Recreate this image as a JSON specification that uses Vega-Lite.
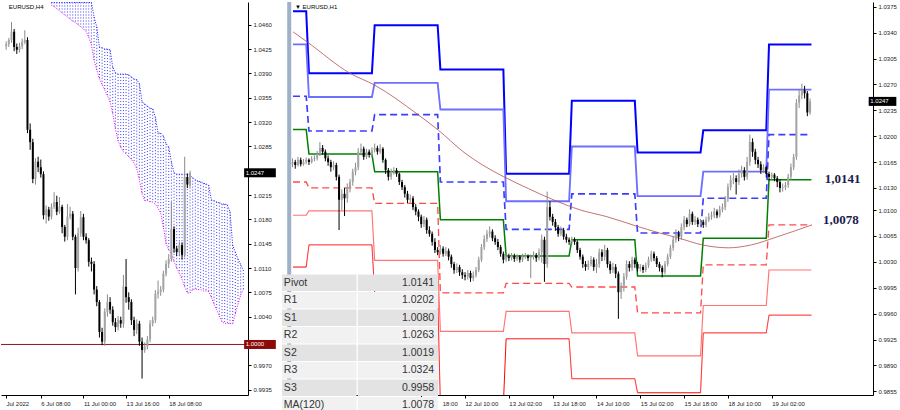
{
"$schema": "https://vega.github.io/schema/vega-lite/v6.json",
"padding": 0,
"background": "#ffffff",
"spacing": 40,
"bounds": "flush",
"config": {"view": {"stroke": null},
 "axis": {"labelFont": "Liberation Sans", "labelFontSize": 6, "labelColor": "#222222", "domainColor": "#000000", "tickColor": "#000000", "tickSize": 3, "grid": false, "labelPadding": 2, "title": null, "labelOverlap": false, "labelBound": false, "labelFlush": false}},
"datasets": {
"one": [{}],
"h4": [
{"j":-29,"o":1.0429,"h":1.0436,"l":1.0424,"c":1.0432},
{"j":-28,"o":1.0432,"h":1.0441,"l":1.0428,"c":1.0438},
{"j":-27,"o":1.0438,"h":1.0464,"l":1.0434,"c":1.0450},
{"j":-26,"o":1.0450,"h":1.0454,"l":1.0422,"c":1.0428},
{"j":-25,"o":1.0428,"h":1.0433,"l":1.0418,"c":1.0424},
{"j":-24,"o":1.0424,"h":1.0434,"l":1.0420,"c":1.0429},
{"j":-23,"o":1.0429,"h":1.0440,"l":1.0425,"c":1.0435},
{"j":-22,"o":1.0435,"h":1.0452,"l":1.0432,"c":1.0438},
{"j":-21,"o":1.0438,"h":1.0442,"l":1.0304,"c":1.0309},
{"j":-20,"o":1.0309,"h":1.0318,"l":1.0280,"c":1.0291},
{"j":-19,"o":1.0291,"h":1.0296,"l":1.0232,"c":1.0238},
{"j":-18,"o":1.0238,"h":1.0268,"l":1.0230,"c":1.0263},
{"j":-17,"o":1.0263,"h":1.0270,"l":1.0248,"c":1.0255},
{"j":-16,"o":1.0255,"h":1.0266,"l":1.0240,"c":1.0245},
{"j":-15,"o":1.0245,"h":1.0249,"l":1.0180,"c":1.0186},
{"j":-14,"o":1.0186,"h":1.0200,"l":1.0174,"c":1.0194},
{"j":-13,"o":1.0194,"h":1.0198,"l":1.0178,"c":1.0184},
{"j":-12,"o":1.0184,"h":1.0203,"l":1.0180,"c":1.0198},
{"j":-11,"o":1.0198,"h":1.0219,"l":1.0195,"c":1.0205},
{"j":-10,"o":1.0205,"h":1.0214,"l":1.0186,"c":1.0191},
{"j":-9,"o":1.0191,"h":1.0212,"l":1.0188,"c":1.0198},
{"j":-8,"o":1.0198,"h":1.0201,"l":1.0160,"c":1.0169},
{"j":-7,"o":1.0169,"h":1.0172,"l":1.0148,"c":1.0155},
{"j":-6,"o":1.0155,"h":1.0202,"l":1.0150,"c":1.0184},
{"j":-5,"o":1.0184,"h":1.0198,"l":1.0180,"c":1.0188},
{"j":-4,"o":1.0188,"h":1.0192,"l":1.0150,"c":1.0155},
{"j":-3,"o":1.0155,"h":1.0158,"l":1.0072,"c":1.0110},
{"j":-2,"o":1.0110,"h":1.0168,"l":1.0105,"c":1.0160},
{"j":-1,"o":1.0160,"h":1.0192,"l":1.0155,"c":1.0183},
{"j":0,"o":1.0183,"h":1.0188,"l":1.0150,"c":1.0155},
{"j":1,"o":1.0155,"h":1.0160,"l":1.0145,"c":1.0150},
{"j":2,"o":1.0150,"h":1.0153,"l":1.0112,"c":1.0119},
{"j":3,"o":1.0119,"h":1.0125,"l":1.0105,"c":1.0116},
{"j":4,"o":1.0116,"h":1.0120,"l":1.0072,"c":1.0079},
{"j":5,"o":1.0079,"h":1.0084,"l":1.0055,"c":1.0061},
{"j":6,"o":1.0061,"h":1.0064,"l":1.0010,"c":1.0018},
{"j":7,"o":1.0018,"h":1.0024,"l":0.9999,"c":1.0004},
{"j":8,"o":1.0004,"h":1.0052,"l":0.9998,"c":1.0047},
{"j":9,"o":1.0047,"h":1.0072,"l":1.0040,"c":1.0061},
{"j":10,"o":1.0061,"h":1.0068,"l":1.0044,"c":1.0050},
{"j":11,"o":1.0050,"h":1.0055,"l":1.0027,"c":1.0032},
{"j":12,"o":1.0032,"h":1.0038,"l":1.0018,"c":1.0025},
{"j":13,"o":1.0025,"h":1.0041,"l":1.0020,"c":1.0035},
{"j":14,"o":1.0035,"h":1.0040,"l":1.0024,"c":1.0030},
{"j":15,"o":1.0030,"h":1.0100,"l":1.0024,"c":1.0083},
{"j":16,"o":1.0083,"h":1.0123,"l":1.0060,"c":1.0068},
{"j":17,"o":1.0068,"h":1.0075,"l":1.0050,"c":1.0061},
{"j":18,"o":1.0061,"h":1.0065,"l":1.0028,"c":1.0035},
{"j":19,"o":1.0035,"h":1.0040,"l":1.0012,"c":1.0021},
{"j":20,"o":1.0021,"h":1.0036,"l":1.0015,"c":1.0030},
{"j":21,"o":1.0030,"h":1.0034,"l":0.9998,"c":1.0004},
{"j":22,"o":1.0004,"h":1.0010,"l":0.9951,"c":0.9992},
{"j":23,"o":0.9992,"h":1.0003,"l":0.9988,"c":0.9997},
{"j":24,"o":0.9997,"h":1.0012,"l":0.9993,"c":1.0007},
{"j":25,"o":1.0007,"h":1.0035,"l":1.0003,"c":1.0030},
{"j":26,"o":1.0030,"h":1.0040,"l":1.0026,"c":1.0035},
{"j":27,"o":1.0035,"h":1.0078,"l":1.0031,"c":1.0073},
{"j":28,"o":1.0073,"h":1.0092,"l":1.0066,"c":1.0076},
{"j":29,"o":1.0076,"h":1.0084,"l":1.0070,"c":1.0079},
{"j":30,"o":1.0079,"h":1.0106,"l":1.0075,"c":1.0102},
{"j":31,"o":1.0102,"h":1.0121,"l":1.0098,"c":1.0116},
{"j":32,"o":1.0116,"h":1.0130,"l":1.0110,"c":1.0123},
{"j":33,"o":1.0123,"h":1.0205,"l":1.0119,"c":1.0166},
{"j":34,"o":1.0166,"h":1.0170,"l":1.0132,"c":1.0138},
{"j":35,"o":1.0138,"h":1.0142,"l":1.0127,"c":1.0133},
{"j":36,"o":1.0133,"h":1.0148,"l":1.0128,"c":1.0143},
{"j":37,"o":1.0143,"h":1.0147,"l":1.0122,"c":1.0129},
{"j":38,"o":1.0129,"h":1.0270,"l":1.0125,"c":1.0241},
{"j":39,"o":1.0241,"h":1.0246,"l":1.0225,"c":1.0230},
{"j":40,"o":1.0230,"h":1.0250,"l":1.0226,"c":1.0247}
],
"cloud": [
{"j":-12,"t":1.0492,"b":1.0488},{"j":-11,"t":1.0492,"b":1.0486},{"j":-10,"t":1.0492,"b":1.0483},{"j":-9,"t":1.0492,"b":1.0480},
{"j":-8,"t":1.0492,"b":1.0477},{"j":-7,"t":1.0492,"b":1.0474},{"j":-6,"t":1.0492,"b":1.0471},{"j":-5,"t":1.0492,"b":1.0468},
{"j":-4,"t":1.0492,"b":1.0465},{"j":-3,"t":1.0492,"b":1.0463},{"j":-2,"t":1.0492,"b":1.0460},{"j":-1,"t":1.0492,"b":1.0457},
{"j":0,"t":1.0492,"b":1.0454},{"j":1,"t":1.0492,"b":1.0450},{"j":2,"t":1.0492,"b":1.0442},{"j":3,"t":1.0492,"b":1.0431},
{"j":4,"t":1.0471,"b":1.0409},{"j":5,"t":1.0457,"b":1.0395},{"j":6,"t":1.0428,"b":1.0382},{"j":7,"t":1.0427,"b":1.0374},
{"j":8,"t":1.0425,"b":1.0366},{"j":9,"t":1.0425,"b":1.0358},{"j":10,"t":1.0424,"b":1.0349},{"j":11,"t":1.0399,"b":1.0332},
{"j":12,"t":1.0391,"b":1.0310},{"j":13,"t":1.0389,"b":1.0293},{"j":14,"t":1.0389,"b":1.0284},{"j":15,"t":1.0389,"b":1.0277},
{"j":16,"t":1.0389,"b":1.0274},{"j":17,"t":1.0388,"b":1.0270},{"j":18,"t":1.0385,"b":1.0266},{"j":19,"t":1.0382,"b":1.0261},
{"j":20,"t":1.0381,"b":1.0253},{"j":21,"t":1.0375,"b":1.0237},{"j":22,"t":1.0349,"b":1.0217},{"j":23,"t":1.0346,"b":1.0207},
{"j":24,"t":1.0343,"b":1.0207},{"j":25,"t":1.0340,"b":1.0205},{"j":26,"t":1.0339,"b":1.0205},{"j":27,"t":1.0327,"b":1.0202},
{"j":28,"t":1.0304,"b":1.0196},{"j":29,"t":1.0304,"b":1.0189},{"j":30,"t":1.0300,"b":1.0169},{"j":31,"t":1.0289,"b":1.0145},
{"j":32,"t":1.0284,"b":1.0136},{"j":33,"t":1.0263,"b":1.0130},{"j":34,"t":1.0247,"b":1.0119},{"j":35,"t":1.0245,"b":1.0110},
{"j":36,"t":1.0245,"b":1.0102},{"j":37,"t":1.0245,"b":1.0094},{"j":38,"t":1.0245,"b":1.0083},{"j":39,"t":1.0245,"b":1.0074},
{"j":40,"t":1.0243,"b":1.0074},{"j":41,"t":1.0240,"b":1.0079},{"j":42,"t":1.0237,"b":1.0080},{"j":43,"t":1.0235,"b":1.0079},
{"j":44,"t":1.0234,"b":1.0079},{"j":45,"t":1.0232,"b":1.0077},{"j":46,"t":1.0231,"b":1.0077},{"j":47,"t":1.0229,"b":1.0076},
{"j":48,"t":1.0208,"b":1.0068},{"j":49,"t":1.0207,"b":1.0058},{"j":50,"t":1.0205,"b":1.0050},{"j":51,"t":1.0204,"b":1.0041},
{"j":52,"t":1.0202,"b":1.0033},{"j":53,"t":1.0202,"b":1.0030},{"j":54,"t":1.0201,"b":1.0030},{"j":55,"t":1.0191,"b":1.0030},
{"j":56,"t":1.0143,"b":1.0030},{"j":57,"t":1.0133,"b":1.0044},{"j":58,"t":1.0123,"b":1.0058},{"j":59,"t":1.0115,"b":1.0071},
{"j":60,"t":1.0107,"b":1.0079}
],
"h1": [
{"i":-29,"o":1.0162,"h":1.0170,"l":1.0158,"c":1.0165},
{"i":-28,"o":1.0165,"h":1.0168,"l":1.0156,"c":1.0161},
{"i":-27,"o":1.0161,"h":1.0172,"l":1.0159,"c":1.0168},
{"i":-26,"o":1.0168,"h":1.0171,"l":1.0159,"c":1.0162},
{"i":-25,"o":1.0162,"h":1.0169,"l":1.0160,"c":1.0165},
{"i":-24,"o":1.0165,"h":1.0171,"l":1.0162,"c":1.0168},
{"i":-23,"o":1.0168,"h":1.0170,"l":1.0161,"c":1.0165},
{"i":-22,"o":1.0165,"h":1.0173,"l":1.0163,"c":1.0169},
{"i":-21,"o":1.0169,"h":1.0174,"l":1.0166,"c":1.0170},
{"i":-20,"o":1.0170,"h":1.0180,"l":1.0167,"c":1.0176},
{"i":-19,"o":1.0176,"h":1.0192,"l":1.0173,"c":1.0184},
{"i":-18,"o":1.0184,"h":1.0188,"l":1.0175,"c":1.0179},
{"i":-17,"o":1.0179,"h":1.0182,"l":1.0166,"c":1.0170},
{"i":-16,"o":1.0170,"h":1.0174,"l":1.0160,"c":1.0165},
{"i":-15,"o":1.0165,"h":1.0168,"l":1.0152,"c":1.0158},
{"i":-14,"o":1.0158,"h":1.0166,"l":1.0154,"c":1.0161},
{"i":-13,"o":1.0161,"h":1.0164,"l":1.0140,"c":1.0145},
{"i":-12,"o":1.0145,"h":1.0148,"l":1.0073,"c":1.0114},
{"i":-11,"o":1.0114,"h":1.0128,"l":1.0100,"c":1.0122},
{"i":-10,"o":1.0122,"h":1.0130,"l":1.0092,"c":1.0116},
{"i":-9,"o":1.0116,"h":1.0136,"l":1.0110,"c":1.0131},
{"i":-8,"o":1.0131,"h":1.0142,"l":1.0124,"c":1.0138},
{"i":-7,"o":1.0138,"h":1.0156,"l":1.0133,"c":1.0152},
{"i":-6,"o":1.0152,"h":1.0164,"l":1.0147,"c":1.0158},
{"i":-5,"o":1.0158,"h":1.0184,"l":1.0154,"c":1.0179},
{"i":-4,"o":1.0179,"h":1.0190,"l":1.0174,"c":1.0183},
{"i":-3,"o":1.0183,"h":1.0186,"l":1.0168,"c":1.0172},
{"i":-2,"o":1.0172,"h":1.0183,"l":1.0169,"c":1.0179},
{"i":-1,"o":1.0179,"h":1.0182,"l":1.0171,"c":1.0175},
{"i":0,"o":1.0175,"h":1.0185,"l":1.0172,"c":1.0181},
{"i":1,"o":1.0181,"h":1.0190,"l":1.0178,"c":1.0184},
{"i":2,"o":1.0184,"h":1.0187,"l":1.0175,"c":1.0179},
{"i":3,"o":1.0179,"h":1.0189,"l":1.0176,"c":1.0183},
{"i":4,"o":1.0183,"h":1.0185,"l":1.0164,"c":1.0168},
{"i":5,"o":1.0168,"h":1.0170,"l":1.0149,"c":1.0154},
{"i":6,"o":1.0154,"h":1.0157,"l":1.0140,"c":1.0145},
{"i":7,"o":1.0145,"h":1.0156,"l":1.0141,"c":1.0152},
{"i":8,"o":1.0152,"h":1.0158,"l":1.0148,"c":1.0154},
{"i":9,"o":1.0154,"h":1.0157,"l":1.0145,"c":1.0149},
{"i":10,"o":1.0149,"h":1.0151,"l":1.0134,"c":1.0138},
{"i":11,"o":1.0138,"h":1.0141,"l":1.0127,"c":1.0131},
{"i":12,"o":1.0131,"h":1.0134,"l":1.0117,"c":1.0122},
{"i":13,"o":1.0122,"h":1.0126,"l":1.0109,"c":1.0114},
{"i":14,"o":1.0114,"h":1.0121,"l":1.0110,"c":1.0116},
{"i":15,"o":1.0116,"h":1.0119,"l":1.0100,"c":1.0104},
{"i":16,"o":1.0104,"h":1.0108,"l":1.0093,"c":1.0098},
{"i":17,"o":1.0098,"h":1.0101,"l":1.0085,"c":1.0091},
{"i":18,"o":1.0091,"h":1.0094,"l":1.0076,"c":1.0081},
{"i":19,"o":1.0081,"h":1.0092,"l":1.0077,"c":1.0087},
{"i":20,"o":1.0087,"h":1.0090,"l":1.0068,"c":1.0073},
{"i":21,"o":1.0073,"h":1.0078,"l":1.0064,"c":1.0068},
{"i":22,"o":1.0068,"h":1.0071,"l":1.0052,"c":1.0057},
{"i":23,"o":1.0057,"h":1.0062,"l":1.0042,"c":1.0046},
{"i":24,"o":1.0046,"h":1.0050,"l":1.0039,"c":1.0043},
{"i":25,"o":1.0043,"h":1.0053,"l":1.0040,"c":1.0048},
{"i":26,"o":1.0048,"h":1.0051,"l":1.0037,"c":1.0041},
{"i":27,"o":1.0041,"h":1.0050,"l":1.0038,"c":1.0045},
{"i":28,"o":1.0045,"h":1.0048,"l":1.0032,"c":1.0037},
{"i":29,"o":1.0037,"h":1.0040,"l":1.0022,"c":1.0027},
{"i":30,"o":1.0027,"h":1.0030,"l":1.0014,"c":1.0019},
{"i":31,"o":1.0019,"h":1.0028,"l":1.0015,"c":1.0023},
{"i":32,"o":1.0023,"h":1.0026,"l":1.0011,"c":1.0016},
{"i":33,"o":1.0016,"h":1.0020,"l":1.0007,"c":1.0012},
{"i":34,"o":1.0012,"h":1.0016,"l":1.0005,"c":1.0010},
{"i":35,"o":1.0010,"h":1.0019,"l":1.0006,"c":1.0015},
{"i":36,"o":1.0015,"h":1.0018,"l":1.0003,"c":1.0008},
{"i":37,"o":1.0008,"h":1.0017,"l":1.0004,"c":1.0012},
{"i":38,"o":1.0012,"h":1.0023,"l":1.0009,"c":1.0019},
{"i":39,"o":1.0019,"h":1.0037,"l":1.0016,"c":1.0033},
{"i":40,"o":1.0033,"h":1.0054,"l":1.0030,"c":1.0050},
{"i":41,"o":1.0050,"h":1.0066,"l":1.0046,"c":1.0061},
{"i":42,"o":1.0061,"h":1.0073,"l":1.0057,"c":1.0068},
{"i":43,"o":1.0068,"h":1.0078,"l":1.0063,"c":1.0071},
{"i":44,"o":1.0071,"h":1.0074,"l":1.0058,"c":1.0062},
{"i":45,"o":1.0062,"h":1.0066,"l":1.0053,"c":1.0057},
{"i":46,"o":1.0057,"h":1.0061,"l":1.0046,"c":1.0050},
{"i":47,"o":1.0050,"h":1.0053,"l":1.0037,"c":1.0041},
{"i":48,"o":1.0041,"h":1.0044,"l":1.0028,"c":1.0033},
{"i":49,"o":1.0033,"h":1.0042,"l":1.0030,"c":1.0037},
{"i":50,"o":1.0037,"h":1.0041,"l":1.0031,"c":1.0035},
{"i":51,"o":1.0035,"h":1.0042,"l":1.0032,"c":1.0038},
{"i":52,"o":1.0038,"h":1.0041,"l":1.0030,"c":1.0034},
{"i":53,"o":1.0034,"h":1.0040,"l":1.0031,"c":1.0037},
{"i":54,"o":1.0037,"h":1.0039,"l":1.0029,"c":1.0033},
{"i":55,"o":1.0033,"h":1.0041,"l":1.0030,"c":1.0037},
{"i":56,"o":1.0037,"h":1.0042,"l":1.0034,"c":1.0038},
{"i":57,"o":1.0038,"h":1.0040,"l":1.0031,"c":1.0035},
{"i":58,"o":1.0035,"h":1.0040,"l":1.0008,"c":1.0037},
{"i":59,"o":1.0037,"h":1.0044,"l":1.0033,"c":1.0039},
{"i":60,"o":1.0039,"h":1.0042,"l":1.0030,"c":1.0035},
{"i":61,"o":1.0035,"h":1.0048,"l":1.0032,"c":1.0043},
{"i":62,"o":1.0043,"h":1.0067,"l":1.0029,"c":1.0060},
{"i":63,"o":1.0060,"h":1.0064,"l":1.0003,"c":1.0027},
{"i":64,"o":1.0027,"h":1.0125,"l":1.0022,"c":1.0104},
{"i":65,"o":1.0104,"h":1.0112,"l":1.0086,"c":1.0091},
{"i":66,"o":1.0091,"h":1.0095,"l":1.0079,"c":1.0084},
{"i":67,"o":1.0084,"h":1.0088,"l":1.0072,"c":1.0077},
{"i":68,"o":1.0077,"h":1.0080,"l":1.0064,"c":1.0068},
{"i":69,"o":1.0068,"h":1.0078,"l":1.0065,"c":1.0073},
{"i":70,"o":1.0073,"h":1.0076,"l":1.0060,"c":1.0064},
{"i":71,"o":1.0064,"h":1.0068,"l":1.0056,"c":1.0060},
{"i":72,"o":1.0060,"h":1.0063,"l":1.0053,"c":1.0057},
{"i":73,"o":1.0057,"h":1.0064,"l":1.0054,"c":1.0060},
{"i":74,"o":1.0060,"h":1.0063,"l":1.0053,"c":1.0057},
{"i":75,"o":1.0057,"h":1.0059,"l":1.0042,"c":1.0046},
{"i":76,"o":1.0046,"h":1.0049,"l":1.0033,"c":1.0037},
{"i":77,"o":1.0037,"h":1.0040,"l":1.0022,"c":1.0027},
{"i":78,"o":1.0027,"h":1.0031,"l":1.0018,"c":1.0023},
{"i":79,"o":1.0023,"h":1.0032,"l":1.0019,"c":1.0027},
{"i":80,"o":1.0027,"h":1.0038,"l":1.0024,"c":1.0033},
{"i":81,"o":1.0033,"h":1.0036,"l":1.0018,"c":1.0023},
{"i":82,"o":1.0023,"h":1.0034,"l":1.0015,"c":1.0027},
{"i":83,"o":1.0027,"h":1.0048,"l":1.0022,"c":1.0043},
{"i":84,"o":1.0043,"h":1.0047,"l":1.0031,"c":1.0037},
{"i":85,"o":1.0037,"h":1.0053,"l":1.0032,"c":1.0046},
{"i":86,"o":1.0046,"h":1.0049,"l":1.0022,"c":1.0027},
{"i":87,"o":1.0027,"h":1.0031,"l":1.0014,"c":1.0019},
{"i":88,"o":1.0019,"h":1.0029,"l":1.0015,"c":1.0023},
{"i":89,"o":1.0023,"h":1.0027,"l":1.0008,"c":1.0014},
{"i":90,"o":1.0014,"h":1.0017,"l":0.9953,"c":0.9989},
{"i":91,"o":0.9989,"h":1.0002,"l":0.9980,"c":0.9995},
{"i":92,"o":0.9995,"h":1.0015,"l":0.9990,"c":1.0010},
{"i":93,"o":1.0010,"h":1.0032,"l":1.0006,"c":1.0027},
{"i":94,"o":1.0027,"h":1.0031,"l":1.0017,"c":1.0022},
{"i":95,"o":1.0022,"h":1.0037,"l":1.0018,"c":1.0033},
{"i":96,"o":1.0033,"h":1.0036,"l":1.0022,"c":1.0027},
{"i":97,"o":1.0027,"h":1.0030,"l":1.0017,"c":1.0021},
{"i":98,"o":1.0021,"h":1.0027,"l":1.0017,"c":1.0023},
{"i":99,"o":1.0023,"h":1.0026,"l":1.0015,"c":1.0019},
{"i":100,"o":1.0019,"h":1.0029,"l":1.0016,"c":1.0025},
{"i":101,"o":1.0025,"h":1.0037,"l":1.0022,"c":1.0033},
{"i":102,"o":1.0033,"h":1.0045,"l":1.0030,"c":1.0041},
{"i":103,"o":1.0041,"h":1.0044,"l":1.0031,"c":1.0035},
{"i":104,"o":1.0035,"h":1.0038,"l":1.0023,"c":1.0027},
{"i":105,"o":1.0027,"h":1.0030,"l":1.0017,"c":1.0022},
{"i":106,"o":1.0022,"h":1.0025,"l":1.0009,"c":1.0016},
{"i":107,"o":1.0016,"h":1.0031,"l":1.0013,"c":1.0027},
{"i":108,"o":1.0027,"h":1.0041,"l":1.0024,"c":1.0037},
{"i":109,"o":1.0037,"h":1.0053,"l":1.0034,"c":1.0049},
{"i":110,"o":1.0049,"h":1.0065,"l":1.0045,"c":1.0060},
{"i":111,"o":1.0060,"h":1.0074,"l":1.0056,"c":1.0068},
{"i":112,"o":1.0068,"h":1.0072,"l":1.0058,"c":1.0064},
{"i":113,"o":1.0064,"h":1.0082,"l":1.0060,"c":1.0077},
{"i":114,"o":1.0077,"h":1.0092,"l":1.0073,"c":1.0087},
{"i":115,"o":1.0087,"h":1.0090,"l":1.0077,"c":1.0081},
{"i":116,"o":1.0081,"h":1.0101,"l":1.0078,"c":1.0095},
{"i":117,"o":1.0095,"h":1.0098,"l":1.0080,"c":1.0084},
{"i":118,"o":1.0084,"h":1.0092,"l":1.0080,"c":1.0087},
{"i":119,"o":1.0087,"h":1.0090,"l":1.0077,"c":1.0081},
{"i":120,"o":1.0081,"h":1.0088,"l":1.0078,"c":1.0084},
{"i":121,"o":1.0084,"h":1.0087,"l":1.0076,"c":1.0080},
{"i":122,"o":1.0080,"h":1.0091,"l":1.0077,"c":1.0087},
{"i":123,"o":1.0087,"h":1.0096,"l":1.0084,"c":1.0091},
{"i":124,"o":1.0091,"h":1.0098,"l":1.0087,"c":1.0093},
{"i":125,"o":1.0093,"h":1.0103,"l":1.0089,"c":1.0098},
{"i":126,"o":1.0098,"h":1.0101,"l":1.0089,"c":1.0093},
{"i":127,"o":1.0093,"h":1.0106,"l":1.0090,"c":1.0101},
{"i":128,"o":1.0101,"h":1.0109,"l":1.0097,"c":1.0104},
{"i":129,"o":1.0104,"h":1.0119,"l":1.0100,"c":1.0115},
{"i":130,"o":1.0115,"h":1.0136,"l":1.0111,"c":1.0131},
{"i":131,"o":1.0131,"h":1.0147,"l":1.0127,"c":1.0141},
{"i":132,"o":1.0141,"h":1.0150,"l":1.0135,"c":1.0143},
{"i":133,"o":1.0143,"h":1.0147,"l":1.0121,"c":1.0138},
{"i":134,"o":1.0138,"h":1.0155,"l":1.0134,"c":1.0149},
{"i":135,"o":1.0149,"h":1.0160,"l":1.0144,"c":1.0154},
{"i":136,"o":1.0154,"h":1.0158,"l":1.0140,"c":1.0145},
{"i":137,"o":1.0145,"h":1.0172,"l":1.0141,"c":1.0165},
{"i":138,"o":1.0165,"h":1.0202,"l":1.0160,"c":1.0192},
{"i":139,"o":1.0192,"h":1.0197,"l":1.0172,"c":1.0179},
{"i":140,"o":1.0179,"h":1.0183,"l":1.0162,"c":1.0168},
{"i":141,"o":1.0168,"h":1.0172,"l":1.0157,"c":1.0162},
{"i":142,"o":1.0162,"h":1.0166,"l":1.0149,"c":1.0154},
{"i":143,"o":1.0154,"h":1.0162,"l":1.0150,"c":1.0158},
{"i":144,"o":1.0158,"h":1.0160,"l":1.0144,"c":1.0149},
{"i":145,"o":1.0149,"h":1.0152,"l":1.0140,"c":1.0145},
{"i":146,"o":1.0145,"h":1.0151,"l":1.0141,"c":1.0148},
{"i":147,"o":1.0148,"h":1.0150,"l":1.0139,"c":1.0143},
{"i":148,"o":1.0143,"h":1.0146,"l":1.0131,"c":1.0138},
{"i":149,"o":1.0138,"h":1.0141,"l":1.0124,"c":1.0130},
{"i":150,"o":1.0130,"h":1.0136,"l":1.0125,"c":1.0131},
{"i":151,"o":1.0131,"h":1.0138,"l":1.0127,"c":1.0134},
{"i":152,"o":1.0134,"h":1.0149,"l":1.0130,"c":1.0145},
{"i":153,"o":1.0145,"h":1.0163,"l":1.0141,"c":1.0158},
{"i":154,"o":1.0158,"h":1.0176,"l":1.0154,"c":1.0172},
{"i":155,"o":1.0172,"h":1.0250,"l":1.0168,"c":1.0245},
{"i":156,"o":1.0245,"h":1.0262,"l":1.0238,"c":1.0255},
{"i":157,"o":1.0255,"h":1.0271,"l":1.0250,"c":1.0262},
{"i":158,"o":1.0262,"h":1.0268,"l":1.0251,"c":1.0258},
{"i":159,"o":1.0258,"h":1.0261,"l":1.0227,"c":1.0232},
{"i":160,"o":1.0232,"h":1.0251,"l":1.0229,"c":1.0247}
],
"piv": [
{"lv":"R3","i":-28.82,"v":1.0369},{"lv":"R3","i":-24,"v":1.0369},{"lv":"R3","i":-23,"v":1.0285},{"lv":"R3","i":0,"v":1.0285},{"lv":"R3","i":1,"v":1.0350},{"lv":"R3","i":24,"v":1.0350},{"lv":"R3","i":25,"v":1.0290},{"lv":"R3","i":48,"v":1.0290},{"lv":"R3","i":49,"v":1.0149},{"lv":"R3","i":72,"v":1.0149},{"lv":"R3","i":73,"v":1.0248},{"lv":"R3","i":96,"v":1.0248},{"lv":"R3","i":97,"v":1.0178},{"lv":"R3","i":120,"v":1.0178},{"lv":"R3","i":121,"v":1.0208},{"lv":"R3","i":144,"v":1.0208},{"lv":"R3","i":145,"v":1.0324},{"lv":"R3","i":160.5,"v":1.0324},
{"lv":"R2","i":-28.82,"v":1.0324},{"lv":"R2","i":-24,"v":1.0324},{"lv":"R2","i":-23,"v":1.0253},{"lv":"R2","i":0,"v":1.0253},{"lv":"R2","i":1,"v":1.0272},{"lv":"R2","i":24,"v":1.0272},{"lv":"R2","i":25,"v":1.0236},{"lv":"R2","i":48,"v":1.0236},{"lv":"R2","i":49,"v":1.0112},{"lv":"R2","i":72,"v":1.0112},{"lv":"R2","i":73,"v":1.0186},{"lv":"R2","i":96,"v":1.0186},{"lv":"R2","i":97,"v":1.0119},{"lv":"R2","i":120,"v":1.0119},{"lv":"R2","i":121,"v":1.0152},{"lv":"R2","i":144,"v":1.0152},{"lv":"R2","i":145,"v":1.0263},{"lv":"R2","i":160.5,"v":1.0263},
{"lv":"R1","i":-28.82,"v":1.0254},{"lv":"R1","i":-24,"v":1.0254},{"lv":"R1","i":-23,"v":1.0207},{"lv":"R1","i":0,"v":1.0207},{"lv":"R1","i":1,"v":1.0229},{"lv":"R1","i":24,"v":1.0229},{"lv":"R1","i":25,"v":1.0138},{"lv":"R1","i":48,"v":1.0138},{"lv":"R1","i":49,"v":1.0074},{"lv":"R1","i":72,"v":1.0074},{"lv":"R1","i":73,"v":1.0122},{"lv":"R1","i":96,"v":1.0122},{"lv":"R1","i":97,"v":1.0069},{"lv":"R1","i":120,"v":1.0069},{"lv":"R1","i":121,"v":1.0116},{"lv":"R1","i":144,"v":1.0116},{"lv":"R1","i":145,"v":1.0202},{"lv":"R1","i":160.5,"v":1.0202},
{"lv":"P","i":-28.82,"v":1.0209},{"lv":"P","i":-24,"v":1.0209},{"lv":"P","i":-23,"v":1.0176},{"lv":"P","i":0,"v":1.0176},{"lv":"P","i":1,"v":1.0152},{"lv":"P","i":24,"v":1.0152},{"lv":"P","i":25,"v":1.0087},{"lv":"P","i":48,"v":1.0087},{"lv":"P","i":49,"v":1.0038},{"lv":"P","i":72,"v":1.0038},{"lv":"P","i":73,"v":1.0060},{"lv":"P","i":96,"v":1.0060},{"lv":"P","i":97,"v":1.0011},{"lv":"P","i":120,"v":1.0011},{"lv":"P","i":121,"v":1.0062},{"lv":"P","i":144,"v":1.0062},{"lv":"P","i":145,"v":1.0141},{"lv":"P","i":160.5,"v":1.0141},
{"lv":"S1","i":-28.82,"v":1.0138},{"lv":"S1","i":-24,"v":1.0138},{"lv":"S1","i":-23,"v":1.0130},{"lv":"S1","i":0,"v":1.0130},{"lv":"S1","i":1,"v":1.0109},{"lv":"S1","i":24,"v":1.0109},{"lv":"S1","i":25,"v":0.9988},{"lv":"S1","i":48,"v":0.9988},{"lv":"S1","i":49,"v":1.0001},{"lv":"S1","i":72,"v":1.0001},{"lv":"S1","i":73,"v":0.9996},{"lv":"S1","i":96,"v":0.9996},{"lv":"S1","i":97,"v":0.9961},{"lv":"S1","i":120,"v":0.9961},{"lv":"S1","i":121,"v":1.0026},{"lv":"S1","i":144,"v":1.0026},{"lv":"S1","i":145,"v":1.0080},{"lv":"S1","i":160.5,"v":1.0080},
{"lv":"S2","i":-28.82,"v":1.0093},{"lv":"S2","i":-24,"v":1.0093},{"lv":"S2","i":-23,"v":1.0099},{"lv":"S2","i":0,"v":1.0099},{"lv":"S2","i":1,"v":1.0032},{"lv":"S2","i":24,"v":1.0032},{"lv":"S2","i":25,"v":0.9936},{"lv":"S2","i":48,"v":0.9936},{"lv":"S2","i":49,"v":0.9963},{"lv":"S2","i":72,"v":0.9963},{"lv":"S2","i":73,"v":0.9934},{"lv":"S2","i":96,"v":0.9934},{"lv":"S2","i":97,"v":0.9903},{"lv":"S2","i":120,"v":0.9903},{"lv":"S2","i":121,"v":0.9971},{"lv":"S2","i":144,"v":0.9971},{"lv":"S2","i":145,"v":1.0019},{"lv":"S2","i":160.5,"v":1.0019},
{"lv":"S3","i":-28.82,"v":1.0023},{"lv":"S3","i":-24,"v":1.0023},{"lv":"S3","i":-23,"v":1.0053},{"lv":"S3","i":0,"v":1.0053},{"lv":"S3","i":1,"v":0.9988},{"lv":"S3","i":24,"v":0.9988},{"lv":"S3","i":25,"v":0.9837},{"lv":"S3","i":48,"v":0.9837},{"lv":"S3","i":49,"v":0.9926},{"lv":"S3","i":72,"v":0.9926},{"lv":"S3","i":73,"v":0.9872},{"lv":"S3","i":96,"v":0.9872},{"lv":"S3","i":97,"v":0.9853},{"lv":"S3","i":120,"v":0.9853},{"lv":"S3","i":121,"v":0.9934},{"lv":"S3","i":144,"v":0.9934},{"lv":"S3","i":145,"v":0.9958},{"lv":"S3","i":160.5,"v":0.9958}
],
"ma": [
{"i":-28.8,"v":1.0341},{"i":-23.5,"v":1.0327},{"i":-8.0,"v":1.0285},{"i":1.0,"v":1.0269},{"i":16.5,"v":1.0230},{"i":24.3,"v":1.0208},{"i":33.3,"v":1.0179},{"i":40.4,"v":1.0161},{"i":48.2,"v":1.0145},{"i":57.2,"v":1.0129},{"i":65.6,"v":1.0115},{"i":76.3,"v":1.0100},{"i":85.9,"v":1.0091},{"i":96.1,"v":1.0079},{"i":105.1,"v":1.0069},{"i":112.2,"v":1.0062},{"i":120.6,"v":1.0053},{"i":130.2,"v":1.0049},{"i":138.6,"v":1.0053},{"i":148.1,"v":1.0064},{"i":160.7,"v":1.0080}
],
"tbl": [
{"k":"Pivot","v":"1.0141"},{"k":"R1","v":"1.0202"},{"k":"S1","v":"1.0080"},{"k":"R2","v":"1.0263"},{"k":"S2","v":"1.0019"},{"k":"R3","v":"1.0324"},{"k":"S3","v":"0.9958"},{"k":"MA(120)","v":"1.0078"}
]
},
"hconcat": [
{
"width": 247, "height": 393,
"layer": [
{"data": {"name": "cloud"}, "mark": {"type": "rule", "strokeDash": [1, 2], "color": "#3a3aff", "strokeWidth": 1, "clip": true},
 "encoding": {
  "x": {"field": "j", "type": "quantitative", "scale": {"domain": [-29.06, 59.88], "nice": false, "zero": false},
        "axis": {"orient": "bottom", "values": [-29.06, -16, 0, 16, 32], "tickCount": 20, "labelExpr": "datum.value < -20 ? 'Jul 2022' : (datum.value < -8 ? '6 Jul 08:00' : (datum.value < 8 ? '11 Jul 00:00' : (datum.value < 24 ? '13 Jul 16:00' : '18 Jul 08:00')))", "labelAlign": "left", "labelFlush": false, "labelOverlap": false, "labelPadding": 2}},
  "y": {"field": "t", "type": "quantitative", "scale": {"domain": [0.99273, 1.04927], "nice": false, "zero": false},
        "axis": {"orient": "right", "values": [0.9935, 0.997, 1.004, 1.0075, 1.011, 1.0145, 1.018, 1.0215, 1.0285, 1.032, 1.0355, 1.039, 1.0425, 1.046], "tickCount": 40, "format": ".4f", "labelOverlap": false, "labelFlush": false}},
  "y2": {"field": "b"}
 }},
{"data": {"name": "cloud"}, "mark": {"type": "line", "strokeDash": [1, 1.5], "color": "#1a1aff", "strokeWidth": 1, "clip": true},
 "encoding": {"x": {"field": "j", "type": "quantitative"}, "y": {"field": "t", "type": "quantitative"}}},
{"data": {"name": "cloud"}, "mark": {"type": "line", "strokeDash": [1, 1.5], "color": "#ee00ee", "strokeWidth": 1, "clip": true},
 "encoding": {"x": {"field": "j", "type": "quantitative"}, "y": {"field": "b", "type": "quantitative"}}},
{"data": {"name": "one"}, "mark": {"type": "rule", "color": "#8b1a1a", "strokeWidth": 1},
 "encoding": {"y": {"datum": 1.0, "type": "quantitative"}}},
{"data": {"name": "h4"}, "mark": {"type": "rule", "strokeWidth": 1},
 "encoding": {"x": {"field": "j", "type": "quantitative"}, "y": {"field": "l", "type": "quantitative"}, "y2": {"field": "h"},
  "color": {"condition": {"test": "datum.c < datum.o", "value": "#000000"}, "value": "#8a8a8a"}}},
{"data": {"name": "h4"}, "mark": {"type": "bar", "size": 2, "orient": "vertical"},
 "encoding": {"x": {"field": "j", "type": "quantitative"}, "y": {"field": "o", "type": "quantitative"}, "y2": {"field": "c"},
  "color": {"condition": {"test": "datum.c < datum.o", "value": "#000000"}, "value": "#a4a4a4"}}},
{"data": {"name": "one"}, "mark": {"type": "text", "text": "EURUSD,H4", "align": "left", "baseline": "middle", "fontSize": 6, "font": "Liberation Sans", "color": "#000000"},
 "encoding": {"x": {"datum": -28.0, "type": "quantitative"}, "y": {"datum": 1.0486, "type": "quantitative"}}},
{"data": {"name": "one"}, "mark": {"type": "rule", "color": "#000000", "strokeWidth": 9},
 "encoding": {"x": {"datum": 60.3, "type": "quantitative"}, "x2": {"datum": 72.2}, "y": {"datum": 1.0247, "type": "quantitative"}}},
{"data": {"name": "one"}, "mark": {"type": "text", "text": "1.0247", "align": "left", "baseline": "middle", "fontSize": 6, "font": "Liberation Sans", "color": "#ffffff"},
 "encoding": {"x": {"datum": 60.9, "type": "quantitative"}, "y": {"datum": 1.0247, "type": "quantitative"}}},
{"data": {"name": "one"}, "mark": {"type": "rule", "color": "#8b0a0a", "strokeWidth": 9},
 "encoding": {"x": {"datum": 60.3, "type": "quantitative"}, "x2": {"datum": 72.2}, "y": {"datum": 1.0, "type": "quantitative"}}},
{"data": {"name": "one"}, "mark": {"type": "text", "text": "1.0000", "align": "left", "baseline": "middle", "fontSize": 6, "font": "Liberation Sans", "color": "#ffffff"},
 "encoding": {"x": {"datum": 60.9, "type": "quantitative"}, "y": {"datum": 1.0, "type": "quantitative"}}}
]
},
{
"width": 585, "height": 393,
"layer": [
{
"layer": [
{"data": {"name": "piv"}, "mark": {"type": "line", "clip": true},
 "encoding": {
  "x": {"field": "i", "type": "quantitative", "scale": {"domain": [-28.82, 181.15], "nice": false, "zero": false},
        "axis": {"orient": "bottom", "values": [18, 34, 50, 66, 82, 98, 114, 130, 146], "tickCount": 30, "labelExpr": "['18:00','12 Jul 10:00','13 Jul 02:00','13 Jul 18:00','14 Jul 10:00','15 Jul 02:00','15 Jul 18:00','18 Jul 10:00','19 Jul 02:00'][round((datum.value-18)/16)]", "labelAlign": "left", "labelFlush": false, "labelOverlap": false, "labelPadding": 2, "labelOffset": {"condition": {"test": "datum.value == 18", "value": 21}, "value": 0}}},
  "y": {"field": "v", "type": "quantitative", "scale": {"domain": [0.985, 1.03814], "nice": false, "zero": false},
        "axis": {"orient": "right", "values": [0.9855, 0.989, 0.9925, 0.996, 0.9995, 1.003, 1.0065, 1.01, 1.013, 1.0165, 1.02, 1.0235, 1.027, 1.0305, 1.034, 1.0375], "tickCount": 40, "format": ".4f", "labelOverlap": false, "labelFlush": false}},
  "detail": {"field": "lv"},
  "color": {"field": "lv", "type": "nominal", "legend": null, "scale": {"domain": ["R3", "R2", "R1", "P", "S1", "S2", "S3"], "range": ["#0000ff", "#6e6eff", "#3d3dff", "#008000", "#ff4a4a", "#ff7575", "#ff0000"]}},
  "strokeDash": {"field": "lv", "type": "nominal", "legend": null, "scale": {"domain": ["R3", "R2", "R1", "P", "S1", "S2", "S3"], "range": [[1, 0], [1, 0], [7, 4], [1, 0], [7, 4], [1, 0], [1, 0]]}},
  "strokeWidth": {"field": "lv", "type": "ordinal", "legend": null, "scale": {"domain": ["R3", "R2", "R1", "P", "S1", "S2", "S3"], "range": [2, 1, 1, 1.5, 1, 1, 2]}}
 }},
{"data": {"name": "ma"}, "mark": {"type": "line", "color": "#b4504c", "strokeWidth": 1, "opacity": 0.8, "interpolate": "monotone", "clip": true},
 "encoding": {"x": {"field": "i", "type": "quantitative"}, "y": {"field": "v", "type": "quantitative"}}},
{"data": {"name": "one"}, "mark": {"type": "rule", "color": "#9fb0c8", "strokeWidth": 4},
 "encoding": {"x": {"datum": -30.2, "type": "quantitative"}}},
{"data": {"name": "h1"}, "mark": {"type": "rule", "strokeWidth": 1},
 "encoding": {"x": {"field": "i", "type": "quantitative"}, "y": {"field": "l", "type": "quantitative"}, "y2": {"field": "h"},
  "color": {"condition": {"test": "datum.c < datum.o", "value": "#000000"}, "value": "#8a8a8a"}}},
{"data": {"name": "h1"}, "mark": {"type": "bar", "size": 2, "orient": "vertical"},
 "encoding": {"x": {"field": "i", "type": "quantitative"}, "y": {"field": "o", "type": "quantitative"}, "y2": {"field": "c"},
  "color": {"condition": {"test": "datum.c < datum.o", "value": "#000000"}, "value": "#a4a4a4"}}},
{"data": {"name": "one"}, "mark": {"type": "text", "text": "1,0141", "align": "left", "baseline": "middle", "fontSize": 13, "font": "Liberation Serif", "fontWeight": "bold", "color": "#1b1b4d"},
 "encoding": {"x": {"datum": 165.4, "type": "quantitative"}, "y": {"datum": 1.0142, "type": "quantitative"}}},
{"data": {"name": "one"}, "mark": {"type": "text", "text": "1,0078", "align": "left", "baseline": "middle", "fontSize": 13, "font": "Liberation Serif", "fontWeight": "bold", "color": "#1b1b4d"},
 "encoding": {"x": {"datum": 164.7, "type": "quantitative"}, "y": {"datum": 1.0086, "type": "quantitative"}}},
{"data": {"name": "one"}, "mark": {"type": "text", "text": "▼ EURUSD,H1", "align": "left", "baseline": "middle", "fontSize": 6, "font": "Liberation Sans", "color": "#000000"},
 "encoding": {"x": {"datum": -28.1, "type": "quantitative"}, "y": {"datum": 1.0375, "type": "quantitative"}}},
{"data": {"name": "one"}, "mark": {"type": "rule", "color": "#000000", "strokeWidth": 9},
 "encoding": {"x": {"datum": 181.4, "type": "quantitative"}, "x2": {"datum": 191.5}, "y": {"datum": 1.0247, "type": "quantitative"}}},
{"data": {"name": "one"}, "mark": {"type": "text", "text": "1.0247", "align": "left", "baseline": "middle", "fontSize": 6, "font": "Liberation Sans", "color": "#ffffff"},
 "encoding": {"x": {"datum": 182.0, "type": "quantitative"}, "y": {"datum": 1.0247, "type": "quantitative"}}}
]
},
{
"data": {"name": "tbl"},
"layer": [
{"mark": {"type": "rect", "stroke": null},
 "encoding": {
  "x": {"datum": 0, "type": "quantitative", "scale": {"domain": [0, 1], "range": [-6, 150], "nice": false, "zero": false}, "axis": null},
  "x2": {"datum": 0.478},
  "y": {"field": "k", "type": "nominal", "sort": null, "axis": null, "scale": {"type": "band", "domain": ["Pivot", "R1", "S1", "R2", "S2", "R3", "S3", "MA(120)"], "range": [272.5, 411.5], "paddingInner": 0.06, "paddingOuter": 0}},
  "color": {"field": "k", "type": "nominal", "legend": null, "scale": {"domain": ["Pivot", "R1", "S1", "R2", "S2", "R3", "S3", "MA(120)"], "range": ["#e3e3e3", "#f1f1f1", "#e3e3e3", "#f1f1f1", "#e3e3e3", "#f1f1f1", "#e3e3e3", "#f1f1f1"]}}
 }},
{"mark": {"type": "rect", "stroke": null},
 "encoding": {
  "x": {"datum": 0.486, "type": "quantitative"},
  "x2": {"datum": 1},
  "y": {"field": "k", "type": "nominal", "sort": null},
  "color": {"field": "k", "type": "nominal", "legend": null}
 }},
{"mark": {"type": "text", "align": "left", "baseline": "middle", "fontSize": 10.5, "font": "Liberation Sans", "color": "#333333"},
 "encoding": {"x": {"datum": 0.012, "type": "quantitative"}, "y": {"field": "k", "type": "nominal", "sort": null}, "text": {"field": "k"}}},
{"mark": {"type": "text", "align": "right", "baseline": "middle", "fontSize": 10.5, "font": "Liberation Sans", "color": "#333333"},
 "encoding": {"x": {"datum": 0.975, "type": "quantitative"}, "y": {"field": "k", "type": "nominal", "sort": null}, "text": {"field": "v"}}}
]
}
],
"resolve": {"scale": {"x": "independent", "y": "independent", "color": "independent"}}
}
]
}
